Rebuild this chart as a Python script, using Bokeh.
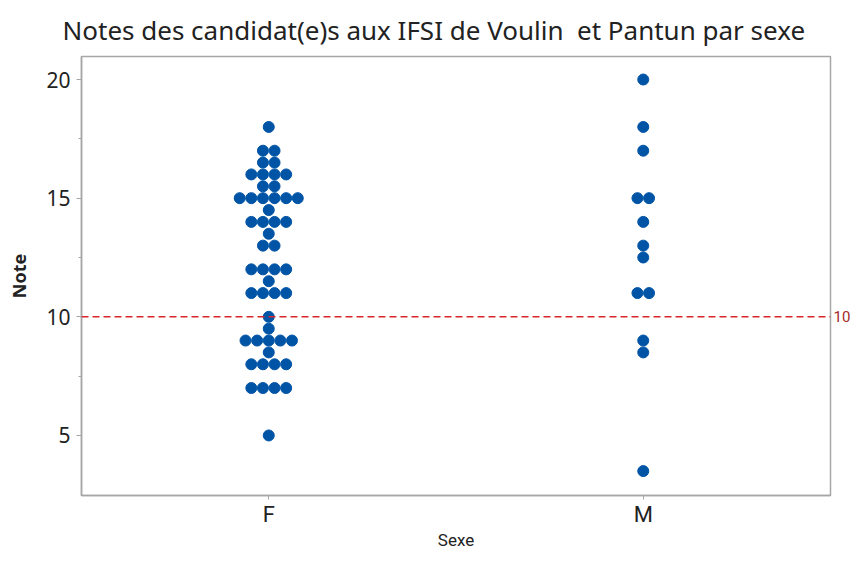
from bokeh.plotting import figure
from bokeh.models import FixedTicker, Span, Range1d, ColumnDataSource, Title, LinearAxis
from bokeh.embed import file_html
from bokeh.resources import INLINE

# ---- data ----
sexes = ["F", "M"]
f_values = [18, 17, 16.5, 16, 15.5, 15, 14.5, 14, 13.5, 13, 12, 11.5, 11, 10, 9.5, 9, 8.5, 8, 7, 5]
f_counts = [1, 2, 2, 4, 2, 6, 1, 4, 1, 2, 4, 1, 4, 1, 1, 5, 1, 4, 4, 1]
m_values = [20, 18, 17, 15, 14, 13, 12.5, 11, 9, 8.5, 3.5]
m_counts = [1, 1, 1, 2, 1, 1, 1, 2, 1, 1, 1]
threshold = 10
y_ticks = [5, 10, 15, 20]
y_minor_ticks = [7.5, 12.5, 17.5]

# ---- build stacked dot positions ----
STEP = 0.031  # horizontal spacing between stacked dots (x units)
xs, ys = [], []
for g, (vals, cnts) in enumerate([(f_values, f_counts), (m_values, m_counts)], start=1):
    for v, n in zip(vals, cnts):
        for i in range(n):
            xs.append(g + (i - (n - 1) / 2) * STEP)
            ys.append(v)
src = ColumnDataSource(dict(x=xs, y=ys))

FONT = "Noto Sans"
FONT2 = "Roboto"
TXT = "#222222"
GRAY = "#a6a6a6"

p = figure(width=853, height=553, output_backend="svg", toolbar_location=None,
           x_range=Range1d(0.5, 2.5), y_range=Range1d(2.47, 20.97),
           min_border_left=81, min_border_right=21, min_border_top=56, min_border_bottom=58)
p.title = Title(text="Notes des candidat(e)s aux IFSI de Voulin\u00a0 et Pantun par sexe",
                align="left", offset=-19, standoff=18, text_font=FONT, text_font_size="26px",
                text_font_style="normal", text_color=TXT)

p.grid.visible = False
p.outline_line_color = GRAY
p.outline_line_width = 1.5
p.background_fill_color = "white"
p.border_fill_color = "white"

p.scatter("x", "y", source=src, size=11, color="#0054a6", line_color="#0054a6")

span = Span(location=threshold, dimension="width", line_color="#d8262b",
            line_dash="7 4", line_width=1.6)
p.add_layout(span)

# right-hand axis that only labels the reference line
p.extra_y_ranges = {"ref": Range1d(2.47, 20.97)}
rax = LinearAxis(y_range_name="ref", ticker=FixedTicker(ticks=[threshold]),
                 axis_line_color=None, major_tick_line_color=None, minor_tick_line_color=None,
                 major_tick_in=0, major_tick_out=0, minor_tick_in=0, minor_tick_out=0,
                 axis_label_standoff=0,
                 major_label_standoff=3, major_label_text_font=FONT2,
                 major_label_text_font_size="15px", major_label_text_color="#a52a2a")
p.add_layout(rax, "right")

# x axis
xax = p.xaxis[0]
xax.ticker = FixedTicker(ticks=[1, 2])
xax.major_label_overrides = {1: sexes[0], 2: sexes[1]}
xax.axis_label = "Sexe"
xax.axis_line_color = GRAY
xax.axis_line_width = 1.5
xax.major_tick_line_color = GRAY
xax.major_tick_in = 0
xax.major_tick_out = 4
xax.minor_tick_line_color = None
xax.minor_tick_out = 0
xax.major_label_standoff = 2
xax.major_label_text_font = FONT2
xax.major_label_text_font_size = "22px"
xax.major_label_text_color = TXT
xax.axis_label_text_font = FONT2
xax.axis_label_text_font_size = "17px"
xax.axis_label_text_font_style = "normal"
xax.axis_label_text_color = TXT
xax.axis_label_standoff = 0

# y axis
yax = p.yaxis[0]
yax.ticker = FixedTicker(ticks=y_ticks, minor_ticks=y_minor_ticks)
yax.axis_label = "Note"
yax.axis_line_color = GRAY
yax.axis_line_width = 1.5
yax.major_tick_line_color = GRAY
yax.minor_tick_line_color = GRAY
yax.major_tick_in = 0
yax.major_tick_out = 5
yax.minor_tick_in = 0
yax.minor_tick_out = 3
yax.major_label_standoff = 6
yax.major_label_text_font = FONT
yax.major_label_text_font_size = "21px"
yax.major_label_text_color = TXT
yax.axis_label_text_font = FONT
yax.axis_label_text_font_size = "18px"
yax.axis_label_text_font_style = "bold"
yax.axis_label_text_color = TXT
yax.axis_label_standoff = 12

open("out.html", "w").write(file_html(p, INLINE))
